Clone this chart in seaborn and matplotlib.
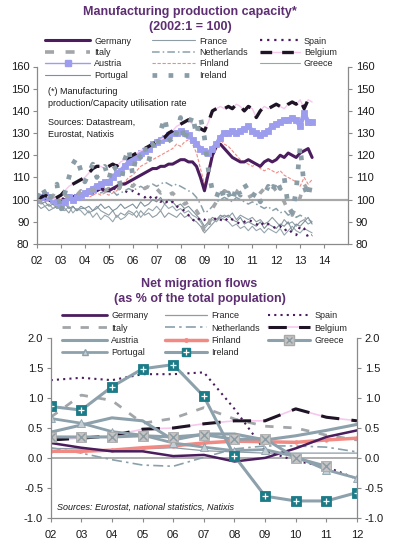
import numpy as np
import pandas as pd
import matplotlib
matplotlib.use("Agg")
import matplotlib.pyplot as plt
import seaborn as sns
from matplotlib.lines import Line2D
from matplotlib.legend_handler import HandlerTuple

sns.set_theme(style="white")
plt.rcParams["font.family"] = ["Liberation Sans", "DejaVu Sans"]

# ---------------- data: manufacturing capacity (2002:1 = 100), bimonthly ----------------
cap_dates = pd.date_range("2002-01-01", "2013-07-01", freq="2MS")
cap_germany = [100, 100, 101, 100, 99, 100,  99, 100, 100, 101, 102, 102,
               103, 103, 104, 104, 105, 104,  104, 105, 106, 107, 107, 108,
               109, 110, 111, 112, 113, 114,  114, 115, 115, 116, 116, 117,
               118, 118, 117, 117, 115, 110,  104, 112, 120, 124, 125, 123,
               121, 119, 118, 117, 117, 118,  117, 116, 115, 117, 118, 117,
               118, 120, 119, 121, 120, 119,  121, 122, 123, 119]
cap_france = [98, 96, 97, 95, 96, 97,  95, 96, 94, 97, 95, 96,
              96, 94, 95, 97, 95, 94,  93, 95, 92, 94, 93, 95,
              94, 92, 95, 93, 94, 92,  93, 95, 92, 94, 93, 92,
              94, 92, 93, 91, 90, 88,  85, 87, 89, 91, 92, 93,
              92, 94, 91, 93, 92, 91,  92, 90, 91, 89, 90, 92,
              90, 88, 91, 89, 90, 88,  90, 91, 89, 90]
cap_spain = [100, 101, 100, 99, 100, 101,  100, 101, 102, 101, 103, 102,
             103, 104, 103, 105, 104, 106,  105, 104, 106, 105, 104, 103,
             104, 103, 102, 101, 102, 100,  101, 99, 100, 98, 99, 97,
             96, 95, 93, 91, 90, 92,  91, 89, 90, 92, 91, 90,
             92, 91, 90, 89, 90, 91,  90, 89, 88, 90, 89, 88,
             87, 88, 86, 87, 85, 84,  88, 87, 83, 84]
cap_italy = [100, 99, 101, 100, 102, 101,  100, 102, 101, 103, 102, 104,
             103, 105, 104, 106, 105, 104,  105, 103, 104, 106, 105, 107,
             106, 108, 107, 105, 106, 104,  105, 103, 104, 102, 103, 101,
             100, 98, 99, 97, 95, 92,  85, 88, 96, 99, 102, 104,
             103, 105, 104, 102, 103, 101,  102, 100, 103, 105, 104, 106,
             104, 102, 99, 95, 93, 97,  101, 107, 104, 103]
cap_netherlands = [100, 101, 99, 100, 101, 100,  99, 100, 101, 100, 102, 101,
                   102, 103, 102, 104, 103, 104,  103, 104, 102, 103, 104, 105,
                   104, 105, 106, 105, 106, 107,  106, 107, 108, 107, 106, 107,
                   106, 105, 104, 103, 101, 98,  94, 95, 97, 99, 100, 101,
                   100, 99, 101, 100, 99, 98,  99, 98, 97, 96, 97, 95,
                   96, 94, 95, 93, 94, 92,  93, 92, 91, 90]
cap_belgium = [100, 101, 102, 101, 100, 101,  102, 104, 106, 107, 108, 109,
               110, 112, 114, 115, 115, 114,  115, 116, 115, 117, 118, 119,
               120, 121, 122, 123, 124, 125,  126, 127, 128, 130, 131, 133,
               134, 135, 136, 134, 133, 132,  131, 135, 140, 141, 142, 141,
               142, 141, 143, 142, 140, 142,  141, 137, 140, 142, 141, 142,
               143, 142, 141, 143, 144, 143,  145, 141, 145, 144]
cap_austria = [100, 101, 102, 101, 100, 99,  98, 99, 101, 100, 101, 102,
               103, 104, 105, 106, 107, 108,  108, 110, 112, 113, 115, 117,
               118, 119, 121, 122, 123, 125,  126, 127, 128, 129, 130, 130,
               131, 130, 129, 127, 125, 123,  122, 121, 123, 125, 128, 130,
               130, 131, 130, 131, 132, 133,  131, 130, 129, 130, 131, 133,
               134, 135, 136, 136, 137, 136,  133, 139, 135, 135]
cap_finland = [100, 101, 100, 99, 100, 101,  100, 99, 100, 101, 100, 101,
               102, 101, 102, 103, 102, 103,  102, 103, 104, 106, 108, 110,
               111, 113, 115, 116, 117, 118,  119, 120, 121, 122, 123, 125,
               124, 126, 127, 125, 121, 114,  107, 114, 121, 126, 127, 125,
               124, 122, 120, 118, 117, 116,  115, 116, 114, 113, 114, 113,
               112, 113, 111, 110, 109, 108,  106, 110, 107, 109]
cap_greece = [100, 99, 97, 98, 96, 97,  96, 95, 97, 94, 96, 95,
              93, 95, 92, 94, 91, 93,  92, 90, 93, 91, 92, 94,
              93, 95, 92, 94, 96, 95,  97, 95, 98, 96, 97, 95,
              96, 94, 95, 93, 92, 90,  87, 89, 91, 90, 92, 91,
              90, 88, 89, 87, 88, 86,  88, 86, 87, 85, 87, 86,
              85, 87, 84, 86, 88, 86,  85, 87, 86, 85]
cap_portugal = [100, 98, 99, 97, 98, 96,  97, 98, 96, 97, 95, 97,
                96, 97, 95, 96, 98, 96,  97, 95, 96, 98, 96, 97,
                98, 96, 99, 97, 98, 100,  99, 101, 98, 100, 99, 97,
                98, 96, 97, 95, 93, 91,  88, 90, 92, 91, 93, 92,
                93, 91, 90, 92, 89, 90,  89, 88, 90, 87, 89, 88,
                87, 89, 88, 90, 86, 89,  88, 90, 92, 89]
cap_ireland = [101, 106, 103, 99, 104, 107,  94, 103, 110, 116, 119, 113,
               108, 112, 116, 110, 113, 115,  109, 116, 113, 106, 118, 123,
               111, 121, 119, 124, 117, 125,  122, 131, 137, 128, 125, 130,
               137, 126, 133, 138, 129, 137,  128, 113, 104, 101, 106, 100,
               103, 99, 106, 102, 107, 104,  101, 104, 99, 102, 106, 103,
               109, 105, 110, 97, 94, 104,  124, 106, 101, 110]
cap_xticks = list(range(2002, 2015))
cap_xlabels = ["02", "03", "04", "05", "06", "07", "08", "09", "10", "11", "12", "13", "14"]

# ---------------- data: net migration flows (% of population), annual ----------------
mig_years = [2002, 2003, 2004, 2005, 2006, 2007, 2008, 2009, 2010, 2011, 2012]
mig_germany = [0.25, 0.17, 0.11, 0.11, 0.03, 0.05, -0.06, 0.00, 0.16, 0.35, 0.46]
mig_france = [0.16, 0.15, 0.13, 0.15, 0.17, 0.12, 0.10, 0.08, 0.08, 0.08, 0.08]
mig_spain = [1.30, 1.34, 1.30, 1.40, 1.40, 1.43, 0.82, 0.12, -0.05, -0.15, -0.35]
mig_italy = [0.68, 1.05, 0.96, 0.58, 0.66, 0.84, 0.65, 0.53, 0.50, 0.38, 0.30]
mig_netherlands = [0.17, 0.08, -0.03, -0.12, -0.14, 0.01, 0.15, 0.20, 0.20, 0.18, 0.10]
mig_belgium = [0.30, 0.33, 0.37, 0.48, 0.50, 0.57, 0.62, 0.62, 0.82, 0.68, 0.62]
mig_austria = [0.43, 0.55, 0.67, 0.62, 0.30, 0.40, 0.40, 0.30, 0.37, 0.46, 0.56]
mig_finland = [0.11, 0.11, 0.13, 0.17, 0.20, 0.25, 0.28, 0.27, 0.26, 0.30, 0.33]
mig_greece = [0.35, 0.35, 0.35, 0.37, 0.35, 0.39, 0.31, 0.32, 0.00, -0.14, np.nan]
mig_portugal = [0.66, 0.58, 0.44, 0.38, 0.25, 0.18, 0.12, 0.14, 0.02, -0.20, -0.34]
mig_ireland = [0.86, 0.80, 1.19, 1.49, 1.56, 1.03, 0.03, -0.64, -0.72, -0.72, -0.58]
mig_xlabels = ["02", "03", "04", "05", "06", "07", "08", "09", "10", "11", "12"]
mig_yticks = [-1.0, -0.5, 0.0, 0.5, 1.0, 1.5, 2.0]

# ---------------- layout ----------------
W, H = 393, 547
fig = plt.figure(figsize=(W / 100, H / 100), dpi=100)
fig.patch.set_facecolor("white")


def rect(l, t, r, b):
    return [l / W, 1 - b / H, (r - l) / W, (b - t) / H]


ax1 = fig.add_axes(rect(37, 66.5, 348, 244))
ax2 = fig.add_axes(rect(50.7, 338.3, 357, 517.7))

PURPLE = "#4B1D5E"
GRAY = "#8E9CA6"
GRAYBLUE = "#8DA1AC"
LAV = "#9D9DEE"
SALMON = "#F28A84"
PINK = "#F6C8EE"
TEAL = "#1B7C88"
TITLE = "#5E2E73"
SPINE = "#8A8A8A"

cap_x = cap_dates.year + (cap_dates.month - 1) / 12.0


def sline(ax, x, y, **kw):
    kw.setdefault("markeredgewidth", 0.6)
    sns.lineplot(x=list(x), y=list(y), ax=ax, legend=False, **kw)


# ---- top chart ----
ax1.axhline(100, color="#A8A8A8", lw=1.6, zorder=1)
sline(ax1, cap_x, cap_france, color=GRAY, lw=0.8)
sline(ax1, cap_x, cap_greece, color="#97A6AE", lw=0.8)
sline(ax1, cap_x, cap_portugal, color="#7E909A", lw=0.8)
sline(ax1, cap_x, cap_spain, color=PURPLE, lw=1.6, linestyle=(0, (1, 2.2)))
sline(ax1, cap_x, cap_netherlands, color="#8AA0AB", lw=1.1, linestyle=(0, (5, 2, 1, 2)))
sline(ax1, cap_x, cap_finland, color=SALMON, lw=0.8, linestyle=(0, (3, 1.5)))
sline(ax1, cap_x, cap_germany, color=PURPLE, lw=2.2)
sline(ax1, cap_x, cap_austria, color=LAV, lw=3.2, marker="s", markersize=5.0,
      markerfacecolor=LAV, markeredgecolor=LAV)
sline(ax1, cap_x, cap_belgium, color=PINK, lw=1.0)
sline(ax1, cap_x, cap_belgium, color="#1E1426", lw=2.4, linestyle=(0, (3.5, 3)))
sline(ax1, cap_x, cap_italy, color="#A2A6A9", lw=2.6, linestyle=(0, (1.6, 3.2)))
sline(ax1, cap_x, cap_ireland, color="#8A9DA7", lw=3.4, linestyle=(0, (1.0, 2.4)))

ax1.set_xlim(2002, 2015)
ax1.set_ylim(80, 160)
ax1.set_yticks(range(80, 161, 10))
ax1.set_xticks(cap_xticks)
ax1.set_xticklabels(cap_xlabels)

# ---- bottom chart ----
ax2.axhline(0, color="#A8A8A8", lw=1.3, zorder=1)
sline(ax2, mig_years, mig_france, color=GRAY, lw=0.9)
sline(ax2, mig_years, mig_netherlands, color="#8AA0AB", lw=1.2, linestyle=(0, (6, 2.5, 1.5, 2.5)))
sline(ax2, mig_years, mig_italy, color="#A2A6A9", lw=2.0, linestyle=(0, (3, 3.5)))
sline(ax2, mig_years, mig_spain, color=PURPLE, lw=1.5, linestyle=(0, (1, 2)))
sline(ax2, mig_years, mig_belgium, color=PINK, lw=1.2)
sline(ax2, mig_years, mig_belgium, color="#1E1426", lw=2.2, linestyle=(0, (6, 4)))
sline(ax2, mig_years, mig_finland, color=SALMON, lw=2.5, marker="o", markersize=2.5,
      markerfacecolor=SALMON, markeredgecolor=SALMON)
sline(ax2, mig_years, mig_germany, color=PURPLE, lw=1.8)
sline(ax2, mig_years, mig_austria, color=GRAYBLUE, lw=2.2)
sline(ax2, mig_years, mig_portugal, color=GRAYBLUE, lw=2.0, marker="^", markersize=6,
      markerfacecolor="#C3CFD5", markeredgecolor=GRAYBLUE)
sline(ax2, mig_years, mig_greece, color=GRAYBLUE, lw=2.2, marker="s", markersize=7,
      markerfacecolor="#C4C4C4", markeredgecolor="#A9A9A9")
sline(ax2, mig_years, mig_greece, color=GRAYBLUE, lw=0, marker="x", markersize=5.5,
      markeredgecolor="#8C9AA3", markeredgewidth=1.0)
sline(ax2, mig_years, mig_ireland, color=GRAYBLUE, lw=2.2, marker="s", markersize=6.5,
      markerfacecolor=TEAL, markeredgecolor=TEAL)
sline(ax2, mig_years, mig_ireland, color=GRAYBLUE, lw=0, marker="+", markersize=5,
      markeredgecolor="white", markeredgewidth=0.9)

ax2.set_xlim(2002, 2012)
ax2.set_ylim(-1.0, 2.0)
ax2.set_yticks(mig_yticks)
ax2.set_yticklabels([f"{v:.1f}" for v in mig_yticks])
ax2.set_xticks(mig_years)
ax2.set_xticklabels(mig_xlabels)

for ax in (ax1, ax2):
    ax.set_xlabel("")
    ax.set_ylabel("")
    ax.set_facecolor("white")
    for s in ("left", "right", "bottom"):
        ax.spines[s].set_visible(True)
        ax.spines[s].set_color(SPINE)
        ax.spines[s].set_linewidth(0.9)
    ax.spines["top"].set_visible(False)
    ax.tick_params(axis="y", left=True, right=True, labelleft=True, labelright=True,
                   direction="out", length=3, width=0.8, color=SPINE, labelsize=8,
                   pad=2.5, labelcolor="#1A1A1A")
    ax.tick_params(axis="x", bottom=True, direction="out", length=3, width=0.8,
                   color=SPINE, labelsize=8, pad=6, labelcolor="#1A1A1A")
    ax.grid(False)

# ---- titles and notes ----
fig.text(190 / W, 1 - 12 / H, "Manufacturing production capacity*", ha="center", va="center",
         fontsize=9, fontweight="bold", color=TITLE)
fig.text(190 / W, 1 - 27 / H, "(2002:1 = 100)", ha="center", va="center",
         fontsize=9, fontweight="bold", color=TITLE)
fig.text(199 / W, 1 - 283.5 / H, "Net migration flows", ha="center", va="center",
         fontsize=9, fontweight="bold", color=TITLE)
fig.text(200 / W, 1 - 299 / H, "(as % of the total population)", ha="center", va="center",
         fontsize=9, fontweight="bold", color=TITLE)

note_kw = dict(fontsize=6.5, color="#1A1A1A", va="center", ha="left")
fig.text(48 / W, 1 - 91.5 / H, "(*) Manufacturing", **note_kw)
fig.text(48 / W, 1 - 103.3 / H, "production/Capacity utilisation rate", **note_kw)
fig.text(48 / W, 1 - 122.7 / H, "Sources: Datastream,", **note_kw)
fig.text(48 / W, 1 - 134.5 / H, "Eurostat, Natixis", **note_kw)
fig.text(57 / W, 1 - 507 / H, "Sources: Eurostat, national statistics, Natixis",
         fontsize=6.5, style="italic", color="#1A1A1A", va="center", ha="left")


# ---- legends ----
def L(**kw):
    return Line2D([0], [0], **kw)


def add_legend(handles, labels, x, y, hl, sp):
    fig.legend(handles, labels, loc="upper left", bbox_to_anchor=(x / W, 1 - y / H),
               bbox_transform=fig.transFigure, frameon=False, fontsize=6.5,
               handlelength=hl, handletextpad=0.45, labelspacing=sp,
               borderpad=0, borderaxespad=0, handleheight=0.8,
               handler_map={tuple: HandlerTuple(ndivide=1, pad=0)})


top_h = {
    "Germany": L(color=PURPLE, lw=2.2),
    "Italy": L(color="#A2A6A9", lw=2.6, linestyle=(0, (2.5, 3.2))),
    "Austria": L(color=LAV, lw=1.0, marker="s", markersize=5, markevery=[1],
                 markerfacecolor=LAV, markeredgecolor=LAV),
    "Portugal": L(color="#7E909A", lw=0.8),
    "France": L(color=GRAY, lw=0.8),
    "Netherlands": L(color="#8AA0AB", lw=1.1, linestyle=(0, (5, 2, 1, 2))),
    "Finland": L(color=SALMON, lw=0.8, linestyle=(0, (3, 1.5))),
    "Ireland": L(color="#8A9DA7", lw=3.4, linestyle=(0, (1.0, 2.4))),
    "Spain": L(color=PURPLE, lw=1.6, linestyle=(0, (1, 2.2))),
    "Belgium": (L(color=PINK, lw=1.0), L(color="#1E1426", lw=2.4, linestyle=(0, (3.5, 3)))),
    "Greece": L(color="#97A6AE", lw=0.8),
}
cols = [["Germany", "Italy", "Austria", "Portugal"],
        ["France", "Netherlands", "Finland", "Ireland"],
        ["Spain", "Belgium", "Greece"]]
for names, x, hl in zip(cols, [45, 152, 260], [5.0, 4.8, 4.4]):
    add_legend([top_h[n] for n in names], names, x, 36.5, hl, 0.27)

bot_h = {
    "Germany": L(color=PURPLE, lw=2.0),
    "Italy": L(color="#A2A6A9", lw=2.0, linestyle=(0, (3, 3.5))),
    "Austria": L(color=GRAYBLUE, lw=2.2),
    "Portugal": L(color=GRAYBLUE, lw=2.0, marker="^", markersize=5, markevery=[1],
                  markerfacecolor="#C3CFD5", markeredgecolor=GRAYBLUE),
    "France": L(color=GRAY, lw=0.9),
    "Netherlands": L(color="#8AA0AB", lw=1.2, linestyle=(0, (6, 2.5, 1.5, 2.5))),
    "Finland": L(color=SALMON, lw=2.5, marker="o", markersize=2.5, markevery=[1],
                 markerfacecolor=SALMON, markeredgecolor=SALMON),
    "Ireland": (L(color=GRAYBLUE, lw=2.2),
                L(lw=0, marker="s", markersize=6, markerfacecolor=TEAL, markeredgecolor=TEAL),
                L(lw=0, marker="+", markersize=4.5, markeredgecolor="white", markeredgewidth=0.9)),
    "Spain": L(color=PURPLE, lw=1.5, linestyle=(0, (1, 2))),
    "Belgium": (L(color=PINK, lw=1.2), L(color="#1E1426", lw=2.2, linestyle=(0, (6, 4)))),
    "Greece": (L(color=GRAYBLUE, lw=2.2),
               L(lw=0, marker="s", markersize=6.5, markerfacecolor="#C4C4C4", markeredgecolor="#A9A9A9"),
               L(lw=0, marker="x", markersize=5, markeredgecolor="#8C9AA3", markeredgewidth=1.0)),
}
for names, x, hl in zip(cols, [62, 165, 268], [5.0, 4.7, 4.7]):
    add_legend([bot_h[n] for n in names], names, x, 311.5, hl, 0.36)

fig.savefig("out.png", dpi=100, facecolor="white")
